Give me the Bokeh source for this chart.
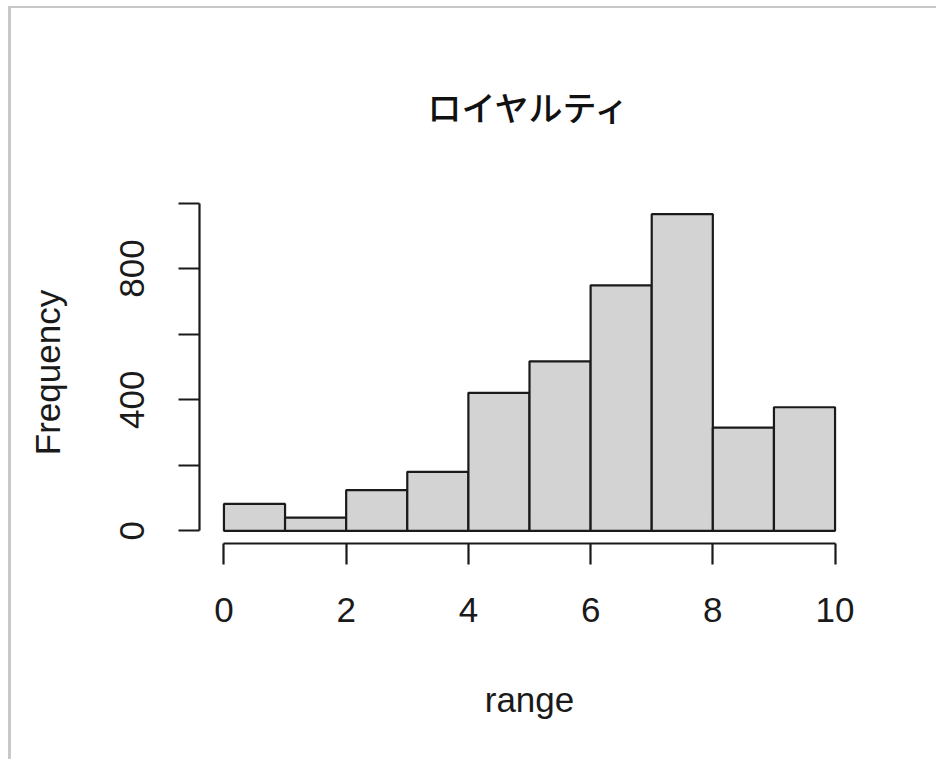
from bokeh.plotting import figure
from bokeh.models import FixedTicker
from bokeh.embed import file_html
from bokeh.resources import INLINE

# Histogram data
bin_left = [0, 1, 2, 3, 4, 5, 6, 7, 8, 9]
bin_right = [1, 2, 3, 4, 5, 6, 7, 8, 9, 10]
counts = [82, 40, 124, 180, 421, 517, 749, 966, 315, 377]
x_ticks = [0, 2, 4, 6, 8, 10]
y_ticks = [0, 200, 400, 600, 800, 1000]
y_tick_labels = {0: "0", 200: "", 400: "400", 600: "", 800: "800", 1000: ""}
title_text = "ロイヤルティ"
x_label = "range"
y_label = "Frequency"

ymax = max(counts)
pad_y = 0.04 * ymax
p = figure(width=928, height=753, x_range=(-0.4, 10.4), y_range=(-pad_y, ymax + pad_y),
           output_backend="svg", toolbar_location=None,
           min_border_left=188, min_border_right=80, min_border_top=193, min_border_bottom=218)
p.styles = {"border-top": "2px solid #c8c8c8", "border-left": "3px solid #c8c8c8",
            "margin-left": "8px", "margin-top": "6px"}
p.outline_line_color = None
p.xgrid.visible = False
p.ygrid.visible = False
p.background_fill_color = "white"
p.border_fill_color = "white"

p.quad(left=bin_left, right=bin_right, bottom=0, top=counts,
       fill_color="#d3d3d3", line_color="#1a1a1a", line_width=2.2)

font = "Liberation Sans"
for ax in (p.xaxis[0], p.yaxis[0]):
    ax.axis_line_width = 2.2
    ax.axis_line_color = "#1a1a1a"
    ax.major_tick_line_width = 2.2
    ax.major_tick_line_color = "#1a1a1a"
    ax.major_tick_out = 21
    ax.major_tick_in = 0
    ax.minor_tick_line_color = None
    ax.major_label_text_font = font
    ax.major_label_text_font_size = "35px"
    ax.major_label_text_color = "#1a1a1a"
    ax.axis_label_text_font = font
    ax.axis_label_text_font_size = "35px"
    ax.axis_label_text_font_style = "normal"
    ax.axis_label_text_color = "#1a1a1a"

p.xaxis.ticker = FixedTicker(ticks=x_ticks)
p.xaxis.bounds = (x_ticks[0], x_ticks[-1])
p.xaxis.major_label_standoff = 33
p.xaxis.axis_label = x_label
p.xaxis.axis_label_standoff = 55

p.yaxis.ticker = FixedTicker(ticks=y_ticks)
p.yaxis.bounds = (y_ticks[0], y_ticks[-1])
p.yaxis.major_label_overrides = y_tick_labels
p.yaxis.major_label_orientation = "vertical"
p.yaxis.major_label_standoff = 34
p.yaxis.axis_label = y_label
p.yaxis.axis_label_standoff = 51

p.title.text = title_text
p.title.align = "center"
p.title.text_font = "Noto Sans CJK JP Medium"
p.title.text_font_size = "34px"
p.title.text_font_style = "normal"
p.title.text_color = "#111111"
p.title.standoff = 142

open("out.html", "w").write(file_html(p, INLINE))
